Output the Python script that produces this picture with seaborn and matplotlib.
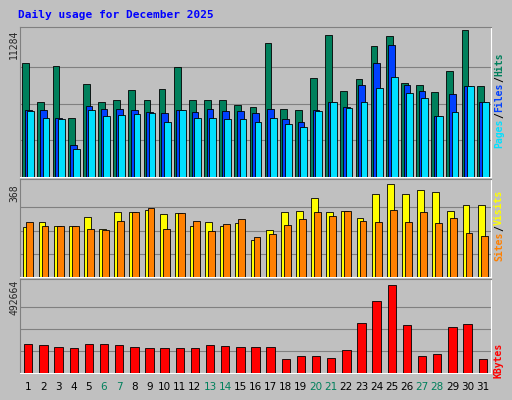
import numpy as np
import matplotlib
matplotlib.use("Agg")
import matplotlib.pyplot as plt
import seaborn as sns

days = list(range(1, 32))
hits_px = [62,101,65,117,83,101,99,89,99,88,66,99,99,99,104,106,42,108,109,77,34,90,78,45,35,82,84,91,70,29,85]
files_px = [109,109,117,144,105,108,108,109,111,112,109,111,108,110,110,112,108,118,121,109,101,106,84,62,44,84,90,115,93,85,101]
pages_px = [110,117,118,148,109,115,114,113,112,121,109,117,117,118,118,121,117,123,126,110,101,107,101,87,76,92,97,115,111,85,101]
hits = [round(11284*(176-y)/147) for y in hits_px]
files = [round(11284*(176-y)/147) for y in files_px]
pages = [round(11284*(176-y)/147) for y in pages_px]
visits_px = [227,222,226,226,217,228,212,212,210,214,213,226,222,226,223,239,229,212,211,198,212,211,218,194,184,194,190,192,211,205,205]
sites_px = [222,226,226,226,228,229,221,212,208,228,213,221,230,224,219,236,233,225,219,212,216,211,221,222,210,222,212,223,218,232,235]
visits = [round(368*(276-y)/92) for y in visits_px]
sites = [round(368*(276-y)/92) for y in sites_px]
kb_px = [343,344,346,347,343,343,344,346,347,347,347,347,344,345,346,346,346,358,355,355,357,349,322,300,284,324,355,353,326,323,358]
kbytes = [round(492664*(372-y)/88) for y in kb_px]
weekends = [6,7,13,14,20,21,27,28]

sns.set_style("white")
BG = "#C0C0C0"
fig = plt.figure(figsize=(5.12, 4.0), dpi=100, facecolor=BG)
W, H = 512, 400

def mkax(x0, y0, x1, y1):
    ax = fig.add_axes([x0/W, 1-y1/H, (x1-x0)/W, (y1-y0)/H])
    ax.set_facecolor(BG)
    ax.set_xlim(0.45, 31.55)
    for s in ax.spines.values():
        s.set_color("#808080")
    ax.spines["bottom"].set_color("white"); ax.spines["right"].set_color("white")
    ax.set_xticks([]); ax.set_yticks([])
    return ax

def bars(ax, vals, off, color, w=0.45):
    x = np.array(days) + off
    ax.bar(x, vals, width=w, color=color, edgecolor="black", linewidth=0.6, zorder=3)

def grid(ax, top):
    for f in (0.25, 0.5, 0.75):
        ax.axhline(top*f, color="#808080", lw=0.8, zorder=1)

a1 = mkax(20, 27, 491, 177)
a1.set_ylim(0, 11284*150/147)
grid(a1, 11284)
bars(a1, hits, -0.17, "#00805C")
bars(a1, files, 0.0, "#0040FF")
bars(a1, pages, 0.17, "#00E0FF")

a2 = mkax(20, 179, 491, 277)
a2.set_ylim(0, 368*97/92)
grid(a2, 368)
bars(a2, visits, -0.1, "#FFFF00")
bars(a2, sites, 0.1, "#FF8000")

a3 = mkax(20, 279, 491, 373)
a3.set_ylim(0, 492664*94/88)
grid(a3, 492664)
bars(a3, kbytes, 0.0, "#FF0000", w=0.55)
for d in days:
    a3.text(d, -0.1, str(d), transform=a3.get_xaxis_transform(), ha="center", va="top",
            fontsize=7.5, color="#00805C" if d in weekends else "black")

fig.text(18/W, 1-15/H, "Daily usage for December 2025", color="#0000FF", fontsize=8,
         fontweight="bold", family="DejaVu Sans Mono", va="center")
for y, t in [(44, "11284"), (193, "368"), (297, "492664")]:
    fig.text(14/W, 1-y/H, t, rotation=90, ha="center", va="center", fontsize=7,
             family="DejaVu Sans Mono")

def rlabel(yc, parts):
    total = sum(len(p[0]) for p in parts)
    ch = 6.0
    y = yc + total*ch/2
    for t, c in parts:
        h = len(t)*ch
        fig.text(499/W, 1-(y-h/2)/H, t, rotation=90, ha="center", va="center", color=c,
                 fontsize=7, family="DejaVu Sans Mono", fontweight="bold")
        y -= h
rlabel(100, [("Pages", "#00E0FF"), ("/", "black"), ("Files", "#0040FF"), ("/", "black"), ("Hits", "#00805C")])
rlabel(225, [("Sites", "#FF8000"), ("/", "black"), ("Visits", "#FFFF00")])
rlabel(360, [("KBytes", "#FF0000")])

fig.savefig("out.png", dpi=100, facecolor=BG)
